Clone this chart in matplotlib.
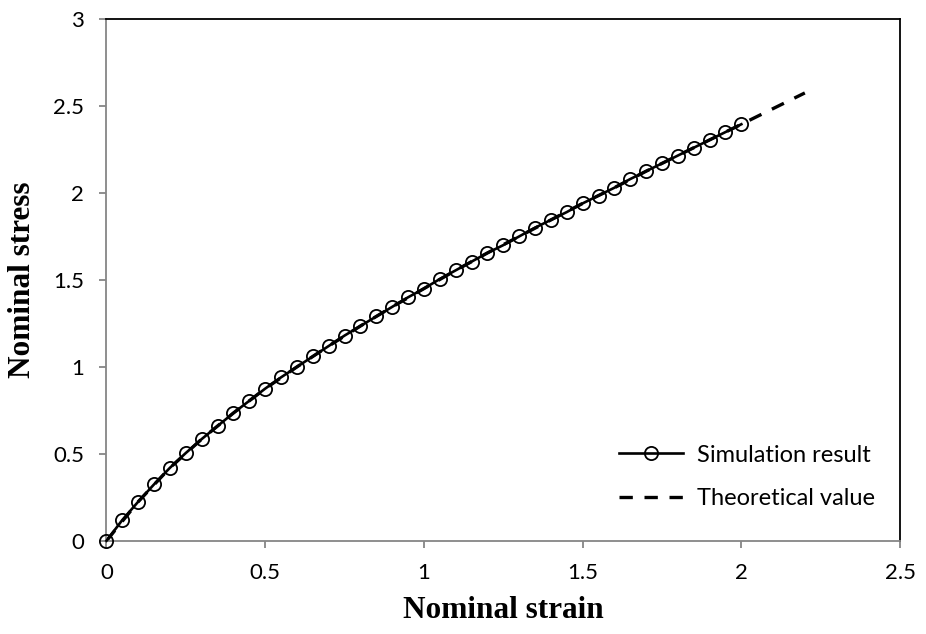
import matplotlib
matplotlib.use("Agg")
import matplotlib.pyplot as plt

# simulation result (markers every 0.05)
strain_sim = [0.0, 0.05, 0.1, 0.15, 0.2, 0.25, 0.3, 0.35, 0.4, 0.45,
              0.5, 0.55, 0.6, 0.65, 0.7, 0.75, 0.8, 0.85, 0.9, 0.95,
              1.0, 1.05, 1.1, 1.15, 1.2, 1.25, 1.3, 1.35, 1.4, 1.45,
              1.5, 1.55, 1.6, 1.65, 1.7, 1.75, 1.8, 1.85, 1.9, 1.95, 2.0]
stress_sim = [0.0, 0.12, 0.225, 0.325, 0.42, 0.505, 0.585, 0.66, 0.735, 0.805,
              0.875, 0.94, 1.0, 1.06, 1.12, 1.18, 1.235, 1.29, 1.345, 1.40,
              1.45, 1.505, 1.555, 1.605, 1.655, 1.70, 1.75, 1.80, 1.845, 1.89,
              1.94, 1.985, 2.03, 2.08, 2.125, 2.17, 2.215, 2.26, 2.305, 2.35, 2.395]

# theoretical value
strain_th = [0.0, 0.1, 0.2, 0.3, 0.4, 0.5, 0.6, 0.7, 0.8, 0.9, 1.0, 1.1,
             1.2, 1.3, 1.4, 1.5, 1.6, 1.7, 1.8, 1.9, 2.0, 2.1, 2.2]
stress_th = [0.0, 0.225, 0.42, 0.585, 0.735, 0.875, 1.0, 1.12, 1.235, 1.345,
             1.45, 1.555, 1.655, 1.75, 1.845, 1.94, 2.03, 2.125, 2.215, 2.305,
             2.395, 2.485, 2.575]

xticks = [0, 0.5, 1, 1.5, 2, 2.5]
xtick_labels = ['0', '0.5', '1', '1.5', '2', '2.5']
yticks = [0, 0.5, 1, 1.5, 2, 2.5, 3]
ytick_labels = ['0', '0.5', '1', '1.5', '2', '2.5', '3']

fig = plt.figure(figsize=(9.26, 6.34), dpi=100)
ax = fig.add_axes([0.115, 0.147, 0.857, 0.823])

ax.plot(strain_th, stress_th, color='black', linewidth=2.4,
        linestyle=(0, (4, 3.5)), label='Theoretical value', zorder=2)
ax.plot(strain_sim, stress_sim, color='black', linewidth=1.9,
        marker='o', markersize=9.5, markerfacecolor='none',
        markeredgecolor='black', markeredgewidth=1.3,
        label='Simulation result', zorder=3, clip_on=False)

ax.set_xlim(0, 2.5)
ax.set_ylim(0, 3)
ax.set_xticks(xticks)
ax.set_xticklabels(xtick_labels)
ax.set_yticks(yticks)
ax.set_yticklabels(ytick_labels)

gray = '#868686'
for side in ['left', 'bottom']:
    ax.spines[side].set_color(gray)
    ax.spines[side].set_linewidth(1.3)
for side in ['top', 'right']:
    ax.spines[side].set_color('black')
    ax.spines[side].set_linewidth(1.3)

ax.tick_params(direction='out', length=5, width=1.3, color=gray,
               labelsize=16)
for lab in ax.get_xticklabels() + ax.get_yticklabels():
    lab.set_family('Lato')
ax.tick_params(axis='x', pad=11)
ax.tick_params(axis='y', pad=11)

ax.set_xlabel('Nominal strain', family='Liberation Serif', fontweight='bold',
              fontsize=22.5, labelpad=9)
ax.set_ylabel('Nominal stress', family='Liberation Serif', fontweight='bold',
              fontsize=22.5, labelpad=12)

handles, labels = ax.get_legend_handles_labels()
leg = ax.legend(handles[::-1], labels[::-1], loc='lower right',
                bbox_to_anchor=(0.995, 0.02), frameon=False,
                prop={'family': 'Lato', 'size': 17},
                handlelength=2.7, handletextpad=0.6, labelspacing=0.95)

plt.savefig('out.png', dpi=100)
plt.close()
